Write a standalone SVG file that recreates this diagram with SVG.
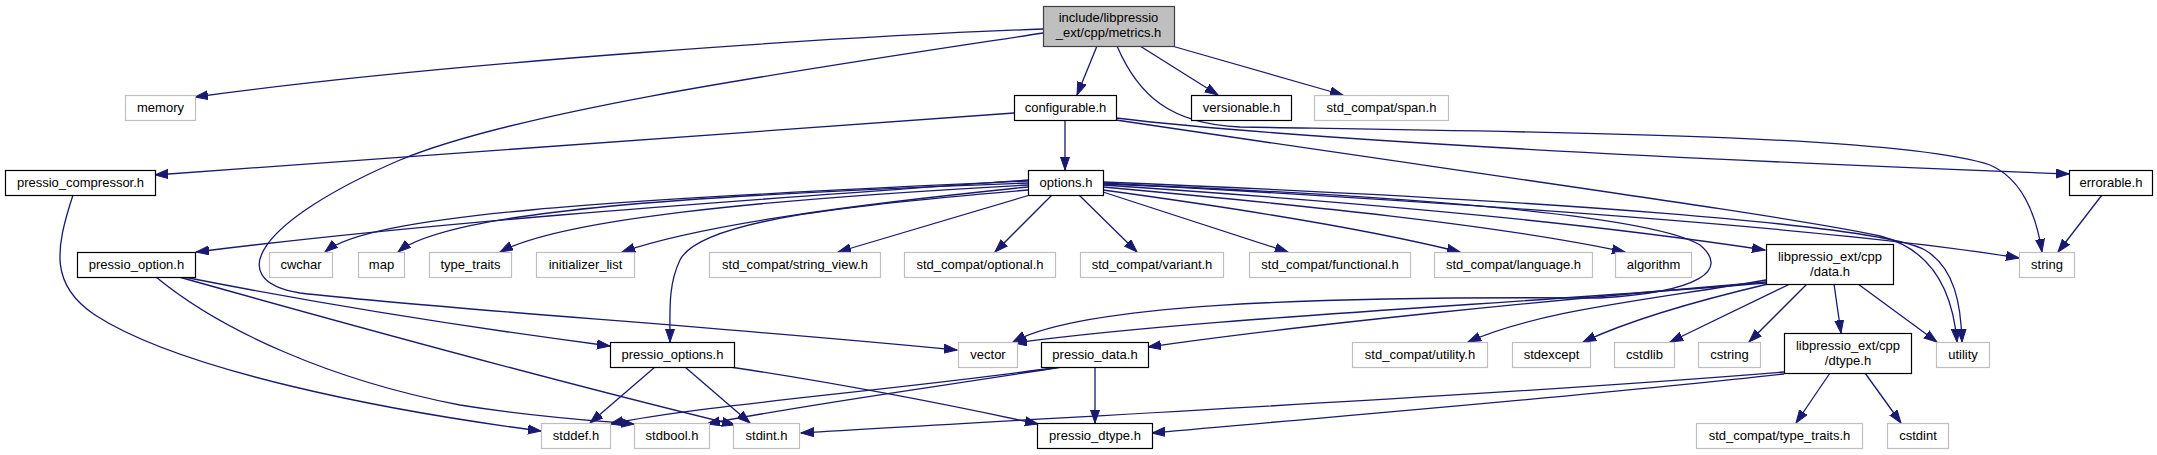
<svg xmlns="http://www.w3.org/2000/svg" width="2157" height="455" viewBox="0 0 2157 455">
<style>
.n rect{fill:#fff;stroke:#000;stroke-width:1.2}
.g rect{fill:#fff;stroke:#bfbfbf;stroke-width:1.2}
.r rect{fill:#bfbfbf;stroke:#404040;stroke-width:1.2}
text{font-family:"Liberation Sans",Arial,sans-serif;font-size:13px;fill:#000;text-anchor:middle}
#edges path{fill:none;stroke:#191970;stroke-width:1.3;marker-end:url(#a)}
</style>
<defs>
<marker id="a" markerUnits="userSpaceOnUse" markerWidth="15" markerHeight="11" refX="13" refY="5" orient="auto">
<path d="M0,0.5 L13,5 L0,9.5 z" fill="#191970" stroke="#191970" stroke-width="1"/>
</marker>
</defs>
<rect width="2157" height="455" fill="#fff"/>
<g id="edges">
<path d="M1043,29 C850,36 450,62 195,97"/>
<path d="M1043,33 C800,70 520,110 400,160 C260,220 220,280 300,293 C450,310 700,325 957,350"/>
<path d="M1097,46 L1077,95"/>
<path d="M1140,46 L1218,95"/>
<path d="M1172,46 L1343,95"/>
<path d="M1117,46 C1138,95 1170,124 1240,127 C1550,132 1900,135 1990,165 C2025,180 2037,220 2042,252"/>
<path d="M1014,113 C800,130 500,150 155,175"/>
<path d="M1065,120 L1065,170"/>
<path d="M1116,118 C1300,140 1700,160 2069,174"/>
<path d="M1116,120 C1500,177 1800,218 1880,236 C1935,250 1953,295 1957,342"/>
<path d="M1028,180 C750,200 450,220 196,252"/>
<path d="M1028,181 C600,200 370,215 325,252"/>
<path d="M1028,183 C700,195 450,210 398,252"/>
<path d="M1028,185 C750,200 560,220 500,252"/>
<path d="M1028,187 C850,205 700,225 622,252"/>
<path d="M1028,190 C850,205 700,220 680,260 C668,285 670,310 670,342"/>
<path d="M1030,195 L838,252"/>
<path d="M1052,195 L995,252"/>
<path d="M1079,195 L1137,252"/>
<path d="M1103,192 L1288,252"/>
<path d="M1103,190 C1250,210 1380,232 1460,252"/>
<path d="M1103,187 C1300,205 1500,225 1625,252"/>
<path d="M1103,185 C1400,205 1600,225 1765,250"/>
<path d="M1103,183 C1500,205 1850,230 2019,258"/>
<path d="M1103,182 C1550,200 1880,225 1925,250 C1955,268 1961,305 1962,342"/>
<path d="M1103,184 C1400,195 1650,215 1700,245 C1730,270 1700,292 1600,298 C1300,296 1080,305 1013,342"/>
<path d="M1766,283 C1500,305 1200,318 1014,343"/>
<path d="M1766,282 C1550,300 1300,325 1148,347"/>
<path d="M1766,280 C1650,300 1540,310 1468,342"/>
<path d="M1768,284 C1700,300 1630,320 1583,342"/>
<path d="M1790,284 L1670,342"/>
<path d="M1807,284 L1749,342"/>
<path d="M1834,284 L1841,333"/>
<path d="M1858,284 L1937,342"/>
<path d="M1830,373 L1796,423"/>
<path d="M1865,373 L1901,423"/>
<path d="M1784,372 C1500,395 1100,415 801,433"/>
<path d="M1784,374 C1600,395 1350,415 1152,433"/>
<path d="M1095,367 L1095,423"/>
<path d="M1060,367 C900,390 700,405 610,424"/>
<path d="M1062,367 C950,385 800,405 707,424"/>
<path d="M655,367 L590,423"/>
<path d="M685,367 L750,423"/>
<path d="M730,367 C850,385 950,405 1038,424"/>
<path d="M184,277 C300,300 450,325 610,346"/>
<path d="M156,277 C220,330 330,380 460,405 C540,418 600,421 634,424"/>
<path d="M179,277 C350,325 550,380 735,425"/>
<path d="M73,195 C55,250 50,285 95,315 C180,370 380,410 541,431"/>
<path d="M2102,195 L2058,252"/>
</g>
<g id="n_metrics" class="r"><rect x="1043.5" y="6.5" width="131" height="40"/><text x="1108.5" y="22">include/libpressio</text><text x="1108.5" y="37">_ext/cpp/metrics.h</text></g>
<g id="n_memory" class="g"><rect x="125.5" y="95.5" width="70" height="25"/><text x="160.5" y="112">memory</text></g>
<g id="n_configurable" class="n"><rect x="1014.5" y="95.5" width="102" height="25"/><text x="1065.5" y="112">configurable.h</text></g>
<g id="n_versionable" class="n"><rect x="1191.5" y="95.5" width="100" height="25"/><text x="1241.5" y="112">versionable.h</text></g>
<g id="n_span" class="g"><rect x="1314.5" y="95.5" width="134" height="25"/><text x="1381.5" y="112">std_compat/span.h</text></g>
<g id="n_compressor" class="n"><rect x="5.5" y="170.5" width="150" height="25"/><text x="80.5" y="187">pressio_compressor.h</text></g>
<g id="n_options" class="n"><rect x="1028.5" y="170.5" width="75" height="25"/><text x="1066" y="187">options.h</text></g>
<g id="n_errorable" class="n"><rect x="2069.5" y="170.5" width="83" height="25"/><text x="2111" y="187">errorable.h</text></g>
<g id="n_pressio_option" class="n"><rect x="77.5" y="252.5" width="118" height="25"/><text x="136.5" y="269">pressio_option.h</text></g>
<g id="n_cwchar" class="g"><rect x="269.5" y="252.5" width="63" height="25"/><text x="301" y="269">cwchar</text></g>
<g id="n_map" class="g"><rect x="358.5" y="252.5" width="46" height="25"/><text x="381.5" y="269">map</text></g>
<g id="n_type_traits" class="g"><rect x="429.5" y="252.5" width="82" height="25"/><text x="470.5" y="269">type_traits</text></g>
<g id="n_initializer_list" class="g"><rect x="536.5" y="252.5" width="98" height="25"/><text x="585.5" y="269">initializer_list</text></g>
<g id="n_string_view" class="g"><rect x="709.5" y="252.5" width="171" height="25"/><text x="795" y="269">std_compat/string_view.h</text></g>
<g id="n_optional" class="g"><rect x="904.5" y="252.5" width="151" height="25"/><text x="980" y="269">std_compat/optional.h</text></g>
<g id="n_variant" class="g"><rect x="1080.5" y="252.5" width="143" height="25"/><text x="1152" y="269">std_compat/variant.h</text></g>
<g id="n_functional" class="g"><rect x="1249.5" y="252.5" width="161" height="25"/><text x="1330" y="269">std_compat/functional.h</text></g>
<g id="n_language" class="g"><rect x="1434.5" y="252.5" width="158" height="25"/><text x="1513.5" y="269">std_compat/language.h</text></g>
<g id="n_algorithm" class="g"><rect x="1615.5" y="252.5" width="76" height="25"/><text x="1653.5" y="269">algorithm</text></g>
<g id="n_data" class="n"><rect x="1766.5" y="244.5" width="127" height="40"/><text x="1830" y="261">libpressio_ext/cpp</text><text x="1830" y="276">/data.h</text></g>
<g id="n_string" class="g"><rect x="2019.5" y="252.5" width="55" height="25"/><text x="2047" y="269">string</text></g>
<g id="n_pressio_options" class="n"><rect x="610.5" y="342.5" width="124" height="25"/><text x="672.5" y="359">pressio_options.h</text></g>
<g id="n_vector" class="g"><rect x="958.5" y="342.5" width="59" height="25"/><text x="988" y="359">vector</text></g>
<g id="n_pressio_data" class="n"><rect x="1041.5" y="342.5" width="107" height="25"/><text x="1095" y="359">pressio_data.h</text></g>
<g id="n_std_utility" class="g"><rect x="1352.5" y="342.5" width="135" height="25"/><text x="1420" y="359">std_compat/utility.h</text></g>
<g id="n_stdexcept" class="g"><rect x="1512.5" y="342.5" width="78" height="25"/><text x="1551.5" y="359">stdexcept</text></g>
<g id="n_cstdlib" class="g"><rect x="1614.5" y="342.5" width="60" height="25"/><text x="1644.5" y="359">cstdlib</text></g>
<g id="n_cstring" class="g"><rect x="1698.5" y="342.5" width="62" height="25"/><text x="1729.5" y="359">cstring</text></g>
<g id="n_dtype" class="n"><rect x="1784.5" y="333.5" width="127" height="40"/><text x="1848" y="350">libpressio_ext/cpp</text><text x="1848" y="365">/dtype.h</text></g>
<g id="n_utility" class="g"><rect x="1936.5" y="342.5" width="53" height="25"/><text x="1963" y="359">utility</text></g>
<g id="n_stddef" class="g"><rect x="541.5" y="423.5" width="69" height="25"/><text x="576" y="440">stddef.h</text></g>
<g id="n_stdbool" class="g"><rect x="634.5" y="423.5" width="75" height="25"/><text x="672" y="440">stdbool.h</text></g>
<g id="n_stdint" class="g"><rect x="733.5" y="423.5" width="66" height="25"/><text x="766.5" y="440">stdint.h</text></g>
<g id="n_pressio_dtype" class="n"><rect x="1037.5" y="423.5" width="115" height="25"/><text x="1095" y="440">pressio_dtype.h</text></g>
<g id="n_type_traits_h" class="g"><rect x="1696.5" y="423.5" width="166" height="25"/><text x="1779.5" y="440">std_compat/type_traits.h</text></g>
<g id="n_cstdint" class="g"><rect x="1887.5" y="423.5" width="61" height="25"/><text x="1918" y="440">cstdint</text></g>
</svg>
